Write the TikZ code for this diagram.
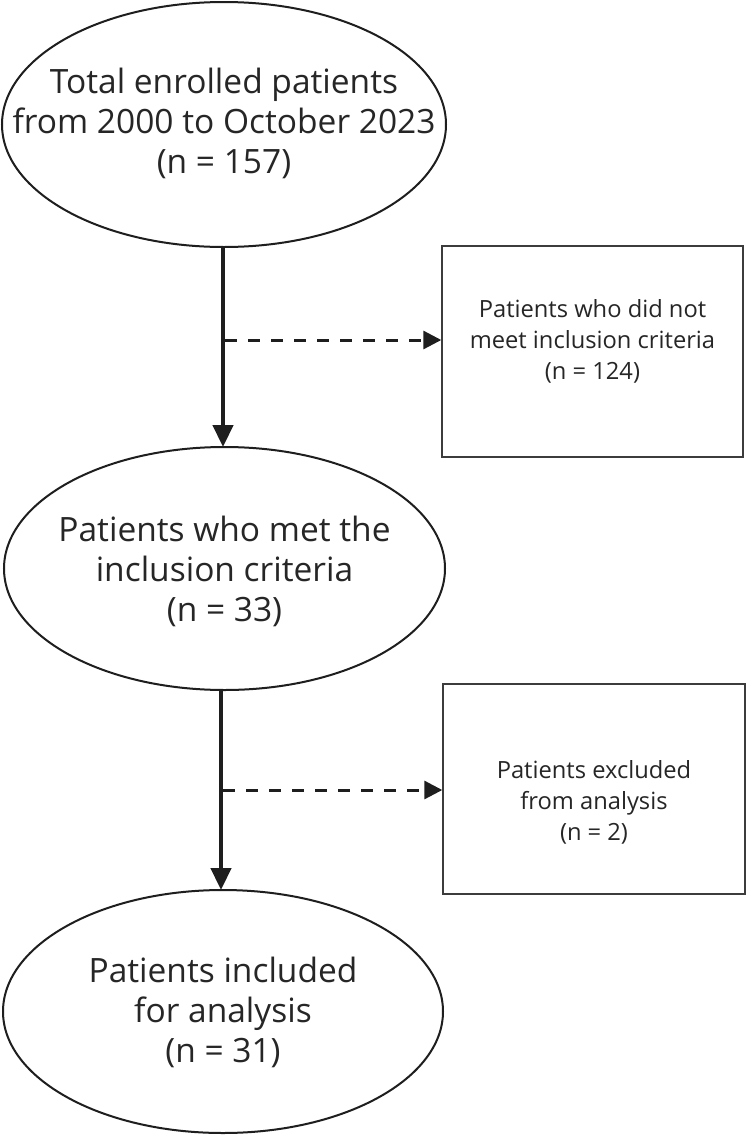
\documentclass[tikz,border=0pt]{standalone}
\usepackage{fontspec}
\setmainfont{Open Sans}
\usetikzlibrary{shapes.geometric,arrows.meta}
\definecolor{ink}{HTML}{1E1E1E}
\definecolor{txt}{HTML}{262626}
\definecolor{boxline}{HTML}{3C3C3C}
\begin{document}
\begin{tikzpicture}[x=1pt,y=-1pt,
  oval/.style={ellipse,draw=ink,line width=2pt,inner sep=0pt},
  etext/.style={align=center,text=txt,font=\fontsize{33.5}{40}\selectfont,inner sep=0pt},
  sidebox/.style={rectangle,draw=boxline,line width=1.4pt,inner sep=0pt},
  btext/.style={align=center,text=txt,font=\fontsize{23.7}{31}\selectfont,inner sep=0pt},
  mainarrow/.style={draw=ink,line width=4.5pt,-{Triangle[length=22pt,width=20pt]}},
  sidearrow/.style={draw=ink,line width=3pt,dash pattern=on 12pt off 11pt,-{Triangle[length=18pt,width=18pt]}}
]
\useasboundingbox (0,0) rectangle (748,1138);
\fill[white] (0,0) rectangle (748,1138);

% ellipses
\node[oval,minimum width=444pt,minimum height=245pt] (e1) at (224,124.5) {};
\node[etext] (t1) at (224,123) {Total enrolled patients\\from 2000 to October 2023\\(n = 157)};

\node[oval,minimum width=441pt,minimum height=243pt] (e2) at (224.5,568.5) {};
\node[etext] (t2) at (224.5,571) {Patients who met the\\inclusion criteria\\(n = 33)};

\node[oval,minimum width=440pt,minimum height=243pt] (e3) at (223,1011.5) {};
\node[etext] (t3) at (223,1012) {Patients included\\for analysis\\(n = 31)};

% side boxes
\node[sidebox,minimum width=301pt,minimum height=211pt] (b1) at (592.5,351.5) {};
\node[btext] (bt1) at (592.5,341) {Patients who did not\\meet inclusion criteria\\(n = 124)};

\node[sidebox,minimum width=302pt,minimum height=210pt] (b2) at (594,789) {};
\node[btext] (bt2) at (594,802) {Patients excluded\\from analysis\\(n = 2)};

% main arrows
\coordinate (a1s) at (223,247);
\coordinate (a1e) at (223,447);
\draw[mainarrow] (a1s) -- (a1e);
\coordinate (a2s) at (221,690);
\coordinate (a2e) at (221,890);
\draw[mainarrow] (a2s) -- (a2e);

% side arrows
\coordinate (d1) at (225,340);
\draw[sidearrow] (d1) -- (d1 -| b1.west);
\coordinate (d2) at (223,790);
\draw[sidearrow] (d2) -- (d2 -| b2.west);
\end{tikzpicture}
\end{document}
